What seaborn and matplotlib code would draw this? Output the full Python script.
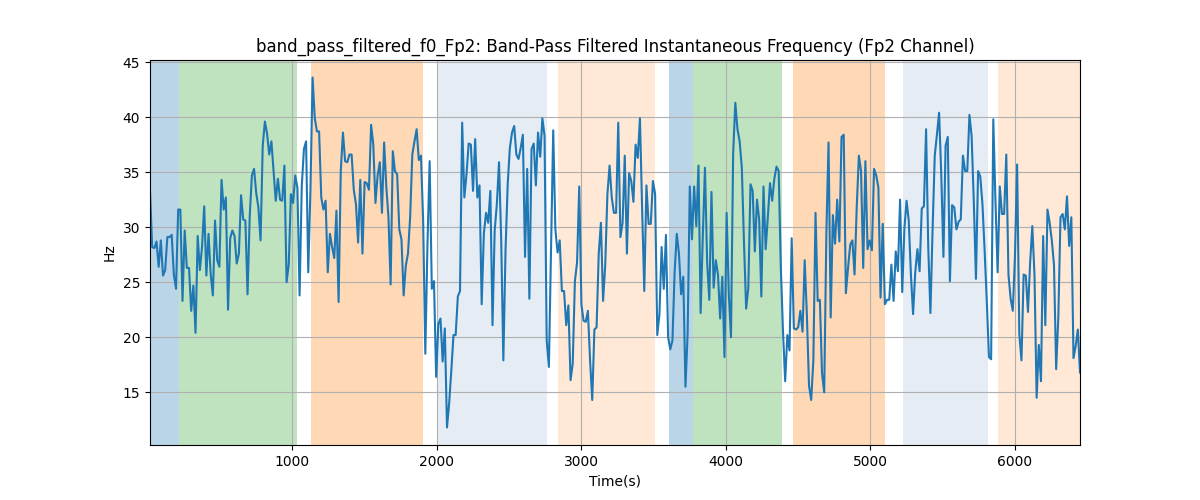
import numpy as np
import pandas as pd
import matplotlib
matplotlib.use("Agg")
import matplotlib.pyplot as plt
import seaborn as sns

# sample spacing (s) of the filtered signal
dt = 15

# instantaneous frequency values (Hz) left to right
seg1 = [33.3, 28.2, 28.1, 28.7, 26.4, 28.8, 25.6, 26.1, 29.1, 29.1,
        29.3, 25.7, 24.4, 31.6, 31.6, 23.3, 29.7, 26.3, 26.3, 22.4,
        24.7, 20.4, 29.2, 26.1, 28.2, 31.9, 25.6, 29.4, 25.7, 23.8,
        30.6, 27.0, 26.4, 34.3, 31.6, 32.7, 22.5, 29.0, 29.7, 29.2,
        26.7, 27.6, 32.9, 30.7, 30.6, 23.9, 31.0, 34.7, 35.3, 33.1,
        31.8, 28.8, 37.4, 39.6, 38.5, 36.6, 37.8, 35.1, 32.4, 34.4, 32.5, 32.4]
seg2 = [35.6, 25.0, 26.6, 33.0, 32.2, 34.7, 33.6, 23.8, 33.7, 37.1,
        37.8, 25.9, 33.3, 43.6, 39.9, 38.7, 38.7, 32.7, 31.6, 32.4,
        25.9, 29.4, 28.2, 27.2, 31.5, 23.2, 35.1, 38.6, 36.0, 35.9,
        36.6, 36.6, 33.4, 32.1, 28.6, 34.3, 27.6, 34.1, 34.0, 33.4,
        39.3, 37.5, 32.2, 34.7, 35.9, 31.3, 37.7, 33.7, 30.9, 24.8,
        36.9, 35.1, 34.8, 29.8, 28.9, 23.8, 26.5, 27.6, 30.9, 36.6, 37.8]
seg3 = [38.9, 36.1, 36.5, 30.6, 18.5, 28.5, 36.0, 24.4, 25.1, 16.4,
        21.2, 21.7, 17.8, 20.8, 11.8, 14.0, 17.0, 20.2, 20.2, 23.7,
        24.2, 39.5, 32.7, 34.8, 37.6, 37.5, 33.3, 38.0, 32.7, 33.8,
        23.0, 29.4, 31.3, 30.4, 33.3, 21.1, 29.7, 32.1, 35.9, 28.9,
        17.9, 27.9, 33.9, 37.2, 38.6, 39.2, 36.6, 36.2, 37.2, 38.4,
        27.3, 35.3, 23.5, 37.1, 37.6, 33.8, 38.6, 36.4, 39.9, 38.3, 19.7]
seg4 = [17.3, 28.2, 38.8, 29.8, 27.7, 28.8, 24.2, 24.2, 21.1, 22.9,
        16.1, 17.6, 25.1, 26.8, 33.7, 23.0, 21.5, 21.4, 22.4, 17.9,
        14.3, 20.7, 20.9, 27.6, 30.4, 23.3, 26.6, 33.0, 35.6, 32.7,
        31.3, 31.3, 39.5, 29.1, 30.4, 36.5, 27.6, 34.9, 34.2, 32.3,
        37.5, 36.3, 39.9, 31.8, 24.2, 33.8, 30.3, 30.3, 34.2, 33.0,
        20.2, 22.1, 28.2, 24.4, 29.3, 20.0, 18.9, 19.7, 25.9, 29.4, 27.6]
seg5 = [23.9, 25.5, 15.5, 20.3, 33.7, 28.9, 33.7, 30.1, 35.6, 22.2,
        29.2, 35.4, 26.8, 23.4, 33.2, 24.5, 27.0, 25.7, 21.7, 25.5,
        18.2, 31.3, 23.9, 20.0, 36.7, 41.3, 38.9, 37.8, 35.4, 28.6,
        22.6, 24.5, 33.9, 33.3, 27.8, 32.5, 30.7, 23.7, 33.7, 28.0,
        30.9, 34.0, 32.4, 34.4, 35.5, 35.1, 26.3, 20.5, 16.0, 20.2,
        18.8, 29.0, 20.8, 20.7, 20.9, 22.4, 20.5, 27.0, 22.1, 15.6, 14.3]
seg6 = [17.9, 31.3, 23.3, 23.4, 16.7, 15.0, 29.4, 37.7, 21.8, 31.1,
        28.5, 32.5, 28.7, 38.2, 38.4, 24.0, 26.3, 28.4, 28.8, 25.7,
        31.8, 36.5, 35.1, 26.3, 36.0, 28.0, 28.8, 27.9, 35.3, 34.7,
        33.6, 23.6, 30.3, 23.0, 23.4, 23.4, 26.6, 23.3, 27.8, 26.0,
        32.5, 24.1, 29.9, 32.4, 30.6, 25.7, 22.1, 25.9, 28.0, 26.0,
        31.7, 31.9, 38.9, 28.2, 22.2, 29.8, 36.5, 38.4, 40.4, 34.8, 27.3]
seg7 = [37.4, 38.2, 25.1, 32.0, 31.8, 29.8, 30.5, 30.7, 36.5, 35.1,
        35.1, 40.2, 38.3, 32.4, 25.3, 35.1, 34.6, 32.1, 27.9, 23.3,
        18.2, 18.0, 39.8, 32.4, 25.9, 33.7, 31.2, 31.2, 36.6, 25.7,
        23.5, 22.4, 27.4, 35.7, 20.3, 17.9, 25.7, 25.6, 22.3, 26.8,
        30.1, 25.7, 14.5, 19.3, 16.0, 29.2, 21.1, 31.6, 30.4, 28.8,
        26.6, 17.1, 21.8, 30.9, 31.2, 29.8, 32.8, 28.3, 30.9, 18.1,
        19.2, 20.7, 16.8]

# shaded segments (start, end in s) and their colour / alpha
span_start = [15, 218, 1130, 2003, 2840, 3607, 3773, 4465, 5226, 5882]
span_end = [218, 1035, 1906, 2764, 3510, 3773, 4389, 5100, 5813, 6450]
span_color = ["C0", "C2", "C1", "lightsteelblue", "C1",
              "C0", "C2", "C1", "lightsteelblue", "C1"]
span_alpha = [0.3, 0.3, 0.3, 0.32, 0.17, 0.3, 0.3, 0.3, 0.32, 0.17]


def main():
    freq = np.array(seg1 + seg2 + seg3 + seg4 + seg5 + seg6 + seg7)
    time = dt * np.arange(1, len(freq) + 1)
    df = pd.DataFrame({"time": time, "freq": freq})

    fig, ax = plt.subplots(figsize=(12, 5), dpi=100)

    for s, e, c, a in zip(span_start, span_end, span_color, span_alpha):
        ax.axvspan(s, e, color=c, alpha=a, linewidth=0)

    sns.lineplot(data=df, x="time", y="freq", ax=ax, color="C0", linewidth=1.5)

    ax.set_xlim(df["time"].min(), df["time"].max())
    ax.grid(True)
    ax.set_title("band_pass_filtered_f0_Fp2: Band-Pass Filtered Instantaneous Frequency (Fp2 Channel)")
    ax.set_xlabel("Time(s)")
    ax.set_ylabel("Hz")

    fig.savefig("out.png", dpi=100)


if __name__ == "__main__":
    main()
